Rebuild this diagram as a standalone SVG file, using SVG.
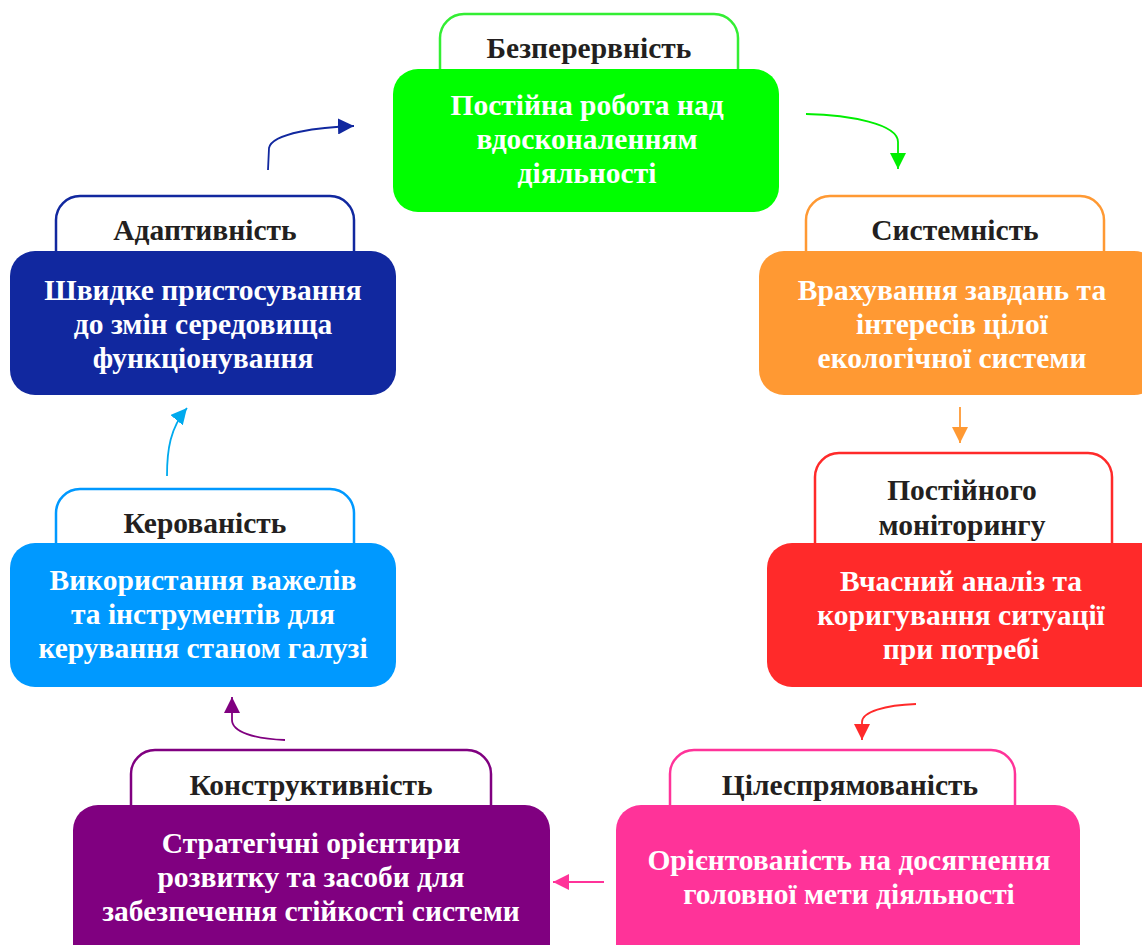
<svg xmlns="http://www.w3.org/2000/svg" width="1142" height="945" viewBox="0 0 1142 945">
  <style>
    .tab { fill: #ffffff; stroke-width: 2.5; }
    .title { font-family: 'Liberation Serif', 'DejaVu Serif', serif; font-weight: bold; font-size: 29.5px; fill: #231f20; text-anchor: middle; }
    .body { font-family: 'Liberation Serif', 'DejaVu Serif', serif; font-weight: bold; font-size: 29.5px; fill: #ffffff; text-anchor: middle; }
    .conn { fill: none; stroke-width: 1.8; }
  </style>
  <defs>
    <marker id="ah-blue" viewBox="0 0 10 10" refX="10" refY="5" markerWidth="16" markerHeight="16" markerUnits="userSpaceOnUse" orient="auto"><path d="M0,0 L10,5 L0,10 Z" fill="#11289f"/></marker>
    <marker id="ah-green" viewBox="0 0 10 10" refX="10" refY="5" markerWidth="16" markerHeight="16" markerUnits="userSpaceOnUse" orient="auto"><path d="M0,0 L10,5 L0,10 Z" fill="#00ee00"/></marker>
    <marker id="ah-orange" viewBox="0 0 10 10" refX="10" refY="5" markerWidth="16" markerHeight="16" markerUnits="userSpaceOnUse" orient="auto"><path d="M0,0 L10,5 L0,10 Z" fill="#ff9933"/></marker>
    <marker id="ah-red" viewBox="0 0 10 10" refX="10" refY="5" markerWidth="16" markerHeight="16" markerUnits="userSpaceOnUse" orient="auto"><path d="M0,0 L10,5 L0,10 Z" fill="#ff2a2a"/></marker>
    <marker id="ah-pink" viewBox="0 0 10 10" refX="10" refY="5" markerWidth="16" markerHeight="16" markerUnits="userSpaceOnUse" orient="auto"><path d="M0,0 L10,5 L0,10 Z" fill="#ff3399"/></marker>
    <marker id="ah-purple" viewBox="0 0 10 10" refX="10" refY="5" markerWidth="16" markerHeight="16" markerUnits="userSpaceOnUse" orient="auto"><path d="M0,0 L10,5 L0,10 Z" fill="#800080"/></marker>
    <marker id="ah-cyan" viewBox="0 0 10 10" refX="10" refY="5" markerWidth="16" markerHeight="16" markerUnits="userSpaceOnUse" orient="auto"><path d="M0,0 L10,5 L0,10 Z" fill="#00aaee"/></marker>
  </defs>

  <rect width="1142" height="945" fill="#ffffff"/>

  <!-- Безперервність -->
  <g id="node-continuity">
    <rect class="tab" x="440" y="14" width="298" height="90" rx="24" stroke="#33ee33"/>
    <text class="title" x="589" y="58">Безперервність</text>
    <rect x="393" y="69" width="386" height="143" rx="25" fill="#00ff00"/>
    <text class="body" x="587" y="115">Постійна робота над</text>
    <text class="body" x="587" y="149">вдосконаленням</text>
    <text class="body" x="587" y="183">діяльності</text>
  </g>

  <!-- Системність -->
  <g id="node-systemic">
    <rect class="tab" x="806" y="196" width="298" height="90" rx="24" stroke="#ff9933"/>
    <text class="title" x="955" y="240">Системність</text>
    <rect x="759" y="251" width="400" height="144" rx="25" fill="#ff9933"/>
    <text class="body" x="952" y="300">Врахування завдань та</text>
    <text class="body" x="952" y="334">інтересів цілої</text>
    <text class="body" x="952" y="368">екологічної системи</text>
  </g>

  <!-- Постійного моніторингу -->
  <g id="node-monitoring">
    <rect class="tab" x="815" y="453" width="297" height="130" rx="24" stroke="#ff2a2a"/>
    <text class="title" x="962" y="500">Постійного</text>
    <text class="title" x="962" y="535">моніторингу</text>
    <rect x="767" y="543" width="400" height="144" rx="25" fill="#ff2a2a"/>
    <text class="body" x="961" y="591">Вчасний аналіз та</text>
    <text class="body" x="961" y="625">коригування ситуації</text>
    <text class="body" x="961" y="659">при потребі</text>
  </g>

  <!-- Цілеспрямованість -->
  <g id="node-purposeful">
    <rect class="tab" x="670" y="750" width="345" height="90" rx="24" stroke="#ff3399"/>
    <text class="title" x="850" y="795">Цілеспрямованість</text>
    <rect x="616" y="805" width="464" height="170" rx="25" fill="#ff3399"/>
    <text class="body" x="849" y="870">Орієнтованість на досягнення</text>
    <text class="body" x="849" y="904">головної мети діяльності</text>
  </g>

  <!-- Конструктивність -->
  <g id="node-constructive">
    <rect class="tab" x="131" y="750" width="360" height="90" rx="24" stroke="#800080"/>
    <text class="title" x="311" y="795">Конструктивність</text>
    <rect x="73" y="805" width="477" height="170" rx="25" fill="#800080"/>
    <text class="body" x="311" y="853">Стратегічні орієнтири</text>
    <text class="body" x="311" y="887">розвитку та засоби для</text>
    <text class="body" x="311" y="921">забезпечення стійкості системи</text>
  </g>

  <!-- Керованість -->
  <g id="node-manageable">
    <rect class="tab" x="56" y="489" width="298" height="90" rx="24" stroke="#0099ff"/>
    <text class="title" x="205" y="533">Керованість</text>
    <rect x="10" y="543" width="386" height="144" rx="25" fill="#0099ff"/>
    <text class="body" x="203" y="590">Використання важелів</text>
    <text class="body" x="203" y="624">та інструментів для</text>
    <text class="body" x="203" y="658">керування станом галузі</text>
  </g>

  <!-- Адаптивність -->
  <g id="node-adaptive">
    <rect class="tab" x="56" y="196" width="298" height="90" rx="24" stroke="#11289f"/>
    <text class="title" x="205" y="240">Адаптивність</text>
    <rect x="10" y="251" width="386" height="144" rx="25" fill="#11289f"/>
    <text class="body" x="203" y="300">Швидке пристосування</text>
    <text class="body" x="203" y="334">до змін середовища</text>
    <text class="body" x="203" y="368">функціонування</text>
  </g>

  <!-- connectors, clockwise cycle -->
  <g id="connectors">
    <path class="conn" stroke="#00ee00" d="M806,114 C850,115 898,124 898,142 L898,169" marker-end="url(#ah-green)"/>
    <path class="conn" stroke="#ff9933" d="M960,407 L960,443" marker-end="url(#ah-orange)"/>
    <path class="conn" stroke="#ff2a2a" d="M916,704 C885,705 862,712 862,722 L862,740" marker-end="url(#ah-red)"/>
    <path class="conn" stroke="#ff3399" d="M604,882 L553,882" marker-end="url(#ah-pink)"/>
    <path class="conn" stroke="#800080" d="M285,740 C255,739 232,732 232,720 L232,697" marker-end="url(#ah-purple)"/>
    <path class="conn" stroke="#00aaee" d="M167,476 C167,450 170,428 187,408" marker-end="url(#ah-cyan)"/>
    <path class="conn" stroke="#11289f" d="M268,170 L269,148 C272,133 320,127 354,126" marker-end="url(#ah-blue)"/>
  </g>
</svg>
